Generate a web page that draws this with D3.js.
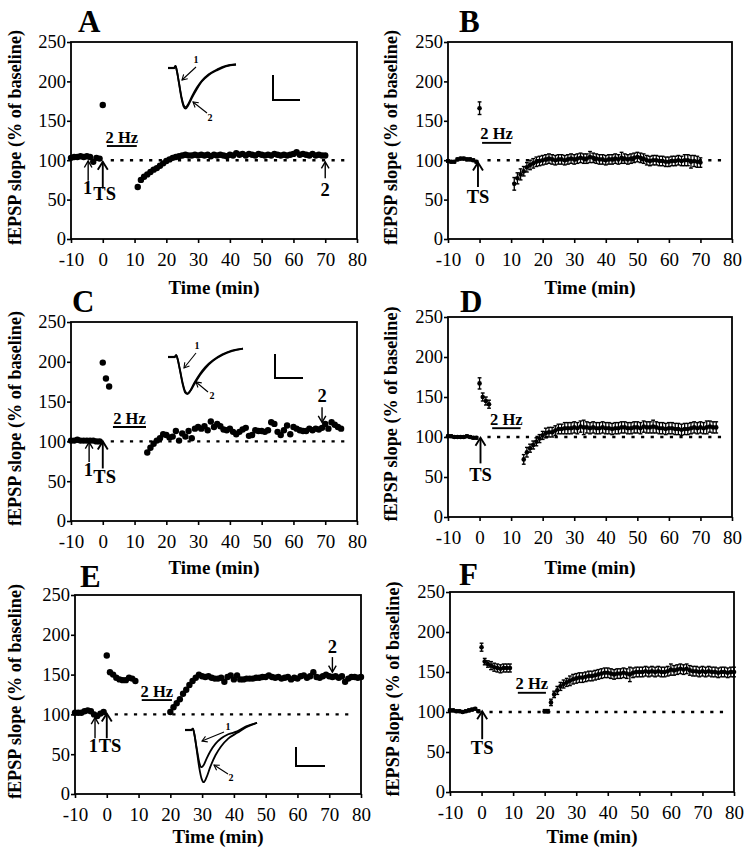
<!DOCTYPE html>
<html><head><meta charset="utf-8">
<script src="https://cdn.jsdelivr.net/npm/d3@7"></script>
<style>
body{margin:0;background:#fff}
svg{display:block}
</style>
</head><body>
<svg id="chart" width="748" height="855"></svg>
<script>
// ---------------- DATA ----------------
const xTicks = [-10,0,10,20,30,40,50,60,70,80];
const yTicks = [0,50,100,150,200,250];
const panelLetters = ["A","B","C","D","E","F"];
const yAxisTitle = "fEPSP slope (% of baseline)";
const xAxisTitle = "Time (min)";

// Panel A (single slice)
const aPre = [103,104,104,105,104,105,104,98,103,102];           // t -10..-1
const aTS  = [170];                                               // t 0
const aRec = [66,75,79,82,85,88,90,93,96,99, 101,103,104,105,106,107,106,106,107,106,
              107,106,107,105,107,106,107,106,105,107, 106,109,107,108,106,108,107,106,108,107,
              106,107,106,108,107,106,107,106,107,108, 110,107,108,107,106,108,106,107,106,106]; // t 11..70

// Panel B (mean ± SEM)
const bPre = [99,98,98,101,102,102,101,101,100,98];
const bPreErr = [1.5,1.5,1.5,1.5,1.5,1.5,1.5,1.5,1.5,1.5];
const bTS = [166];
const bTSErr = [8];
const bRec = [70,77,82,86,91,94,96,98,99,100, 101,102,101,100,101,101,100,101,102,101,
              102,103,102,102,104,103,102,101,101,100, 101,101,102,101,103,102,101,102,103,104,
              103,102,100,99,100,100,99,99,98,98, 99,99,100,99,100,100,98,99,98,97]; // t 11..70
const bRecErr = [8,7,7,6,6,6,6,6,6,6, 6,6,6,6,6,6,6,6,6,6, 6,6,6,6,7,6,6,6,6,6,
                 6,6,6,6,7,6,6,6,6,6, 6,6,6,6,6,6,6,6,6,6, 6,6,6,6,7,7,8,7,7,6];

// Panel C (single slice)
const cPre = [101,101,102,101,101,101,101,101,100,100];
const cTS  = [199,179,169];                                        // t 0..2
const cRec = [86,92,97,101,104,109,108,105,106,113, 101,110,106,113,104,116,118,116,119,114,
              125,118,122,119,115,114,116,112,109,112, 115,117,107,108,114,113,113,112,114,124,
              122,112,108,114,120,109,118,116,114,113, 113,116,114,116,115,117,122,116,124,121,
              118,116];                                            // t 14..75

// Panel D (mean ± SEM)
const dPre = [101,101,100,100,100,100,101,100,99,99];
const dPreErr = [1.5,1.5,1.5,1.5,1.5,1.5,1.5,1.5,1.5,1.5];
const dTS = [167,150,145,141];
const dTSErr = [7,5,5,5];
const dRec = [72,81,86,90,94,98,102,105,106,106, 108,110,110,111,111,111,112,111,113,112,
              112,111,112,111,111,112,111,111,110,111, 111,112,112,111,111,112,112,111,113,112,
              112,113,112,111,111,110,111,111,110,110, 109,110,110,111,112,111,112,111,112,113,
              112,112];                                            // t 14..75
const dRecErr = [6,6,5,5,5,5,5,6,6,6, 6,6,6,7,7,7,7,7,7,9, 7,7,7,7,7,7,7,7,7,7,
                 7,7,7,7,7,7,7,7,7,7, 7,8,7,7,7,7,7,7,7,7, 7,7,7,7,7,7,7,7,8,7, 7,7];

// Panel E (single slice)
const ePre = [102,102,102,104,105,104,100,98,101,103];
const eTS  = [174,153,150,146,144,143,143,146,145,142];            // t 0..9
const eRec = [103,109,114,119,126,131,137,142,146,150, 148,147,148,146,145,145,146,141,147,149,
              144,149,144,144,145,145,145,146,146,147, 147,149,147,146,147,145,146,147,144,146,
              145,148,149,146,148,153,147,146,148,150, 148,147,148,146,148,141,145,147,147,146,
              147];                                                // t 20..80

// Panel F (mean ± SEM)
const fPre = [102,102,101,101,100,101,102,103,104,101];
const fPreErr = [1.5,1.5,1.5,1.5,1.5,1.5,1.5,1.5,1.5,1.5];
const fTS = [181,163,160,158,156,155,154,155,155,155];
const fTSErr = [5,4,4,5,5,5,5,5,5,5];
const fRec = [101,101,112,122,127,132,135,137,139,141, 142,143,143,144,145,145,146,147,148,149,
              149,148,147,148,148,149,148,147,149,150, 150,150,151,150,151,150,151,150,150,151,
              153,152,153,154,153,154,152,151,151,150, 151,150,151,150,150,149,150,150,149,150,
              150];                                                // t 20..80
const fRecErr = [2,2,4,4,5,5,5,5,6,6, 6,6,6,6,6,6,6,6,6,6, 6,6,6,6,6,6,6,9,6,6,
                 6,6,6,6,6,6,6,6,6,6, 7,6,6,6,6,6,6,6,6,6, 6,6,6,6,6,6,6,6,6,6, 6];

// 2 Hz stimulation bars: [start min, end min, level]
const hzA = [1.3,10.7,118], hzB = [0.8,10,122], hzC = [3.2,13.6,118],
      hzD = [4,13,111],     hzE = [11,20.5,118], hzF = [11.5,20.4,124];

// Example fEPSP traces (ms, mV)
const traceTime = [0,1.8,2.2,2.6,3.2,4,4.6,5.2,6,7,8.5,10,12,14.5,17,20];
const traceA1 = [0,0,0.15,-0.2,-1.0,-2.1,-2.65,-2.8,-2.55,-2.05,-1.4,-0.9,-0.45,-0.1,0.15,0.25];
const traceA2 = [0,0,0.15,-0.2,-1.05,-2.2,-2.75,-2.9,-2.65,-2.15,-1.5,-0.95,-0.5,-0.15,0.12,0.25];
const traceC1 = [0,0,0.15,-0.2,-1.0,-2.1,-2.65,-2.8,-2.55,-2.0,-1.3,-0.75,-0.25,0.2,0.5,0.65];
const traceC2 = [0,0,0.15,-0.2,-1.05,-2.2,-2.75,-2.85,-2.6,-2.1,-1.4,-0.85,-0.3,0.15,0.45,0.65];
const traceE1 = [0,0,0.1,-0.3,-1.2,-2.3,-2.6,-2.45,-2.0,-1.5,-0.95,-0.6,-0.3,-0.1,0.25,0.5];
const traceE2 = [0,0,0.1,-0.3,-1.3,-2.7,-3.4,-3.65,-3.3,-2.6,-1.75,-1.15,-0.6,-0.2,0.2,0.5];

// ---------------- HELPERS ----------------
const serif = "'Liberation Serif','Times New Roman',Times,serif";
function seg(t0, vals, errs){ return vals.map((v,i)=>({t:t0+i, v:v, e: errs ? errs[i] : 0})); }

const panels = [
  {letter:"A", box:[71,357,42,239], letterXY:[78,32], ylabX:21, xlabY:294, kind:"dot",
   pts: seg(-10,aPre).concat(seg(0,aTS), seg(11,aRec)), hz:hzA,
   arrows:[{t:-4.6,tail:74,tip:99,label:"1",lv:57,lt:-4.8},
           {t:0,tail:64,tip:98,label:"TS",lv:49,lt:0.6},
           {t:70,tail:77,tip:98,label:"2",lv:55,lt:70}],
   inset:{x0:168,x1:236,yz:68,k:14,tr:[traceA1,traceA2],
          lab1:[196,63],a1:[[196,67],[182,80]],lab2:[210,121],a2:[[207,113],[193,102]],
          bar:[273,75,100,300]}},
  {letter:"B", box:[448,732,42,239], letterXY:[459,32], ylabX:397, xlabY:294, kind:"err",
   pts: seg(-10,bPre,bPreErr).concat(seg(0,bTS,bTSErr), seg(11,bRec,bRecErr)), hz:hzB,
   arrows:[{t:-0.5,tail:66,tip:97,label:"TS",lv:46,lt:-0.5}]},
  {letter:"C", box:[71,357,322,521], letterXY:[72,312], ylabX:21, xlabY:574, kind:"dot",
   pts: seg(-10,cPre).concat(seg(0,cTS), seg(14,cRec)), hz:hzC,
   arrows:[{t:-4.3,tail:74,tip:99,label:"1",lv:56,lt:-4.5},
           {t:0,tail:66,tip:100,label:"TS",lv:48,lt:0.6},
           {t:69,tail:143,tip:124,label:"2",lv:149,lt:69}],
   inset:{x0:168,x1:243,yz:357,k:13,tr:[traceC1,traceC2],
          lab1:[197,349],a1:[[196,353],[184,368]],lab2:[212,399],a2:[[208,392],[196,382]],
          bar:[275,354,378,303]}},
  {letter:"D", box:[448,732,317,517], letterXY:[460,312], ylabX:397, xlabY:574, kind:"err",
   pts: seg(-10,dPre,dPreErr).concat(seg(0,dTS,dTSErr), seg(14,dRec,dRecErr)), hz:hzD,
   arrows:[{t:0.3,tail:67,tip:99,label:"TS",lv:45,lt:0.3}]},
  {letter:"E", box:[75,361,595,794], letterXY:[80,587], ylabX:21, xlabY:843, kind:"dot",
   pts: seg(-10,ePre).concat(seg(0,eTS), seg(20,eRec)), hz:hzE,
   arrows:[{t:-3.7,tail:70,tip:96,label:"1",lv:53,lt:-4.2},
           {t:0,tail:70,tip:101,label:"TS",lv:53,lt:1.0},
           {t:71,tail:172,tip:153,label:"2",lv:177,lt:71}],
   inset:{x0:185,x1:257,yz:730,k:14.3,tr:[traceE1,traceE2],
          lab1:[228,730],a1:[[224,732],[202,741]],lab2:[231,781],a2:[[228,774],[214,765]],
          bar:[296,747,766,325]}},
  {letter:"F", box:[450,734,592,792], letterXY:[459,585], ylabX:399, xlabY:843, kind:"err",
   pts: seg(-10,fPre,fPreErr).concat(seg(0,fTS,fTSErr), seg(20,fRec,fRecErr)), hz:hzF,
   arrows:[{t:0.2,tail:66,tip:101,label:"TS",lv:48,lt:0.2}]}
];

const svg = d3.select("#chart");

function arrowHead(g, tipX, tipY, ang, w, l, sw){
  const bx = tipX - Math.cos(ang)*l, by = tipY - Math.sin(ang)*l;
  const px = -Math.sin(ang)*w, py = Math.cos(ang)*w;
  g.append("polyline")
    .attr("points", `${bx+px},${by+py} ${tipX},${tipY} ${bx-px},${by-py}`)
    .attr("fill","none").attr("stroke","#000").attr("stroke-width",sw)
    .attr("stroke-linejoin","miter");
}
function arrowPx(g, x1,y1,x2,y2, w,l,sw){
  g.append("line").attr("x1",x1).attr("y1",y1).attr("x2",x2).attr("y2",y2)
    .attr("stroke","#000").attr("stroke-width",sw);
  arrowHead(g, x2, y2, Math.atan2(y2-y1, x2-x1), w, l, sw);
}

function drawPanel(p){
  const [x0,x1,yt,yb] = p.box;
  const g = svg.append("g");
  const x = d3.scaleLinear().domain([-10,80]).range([x0,x1]);
  const y = d3.scaleLinear().domain([0,250]).range([yb,yt]);

  g.append("rect").attr("x",x0).attr("y",yt).attr("width",x1-x0).attr("height",yb-yt)
    .attr("fill","none").attr("stroke","#000").attr("stroke-width",1.8);

  const xa = g.append("g").attr("transform",`translate(0,${yb})`)
    .call(d3.axisBottom(x).tickValues(xTicks).tickFormat(d=>String(d)).tickSize(4).tickSizeOuter(0).tickPadding(10));
  xa.select(".domain").remove();
  xa.attr("font-family",serif).attr("font-size",19);
  xa.selectAll("line").attr("stroke-width",1.6);
  xa.selectAll("text").attr("fill","#000");

  const ya = g.append("g").attr("transform",`translate(${x0},0)`)
    .call(d3.axisLeft(y).tickValues(yTicks).tickFormat(d=>String(d)).tickSize(4).tickSizeOuter(0).tickPadding(1));
  ya.select(".domain").remove();
  ya.attr("font-family",serif).attr("font-size",18.5);
  ya.selectAll("line").attr("stroke-width",1.6);
  ya.selectAll("text").attr("fill","#000");

  g.append("text").attr("x",(x0+x1)/2).attr("y",p.xlabY).attr("text-anchor","middle")
    .attr("font-family",serif).attr("font-weight","bold").attr("font-size",19).text(xAxisTitle);
  g.append("text").attr("transform",`translate(${p.ylabX},${(yt+yb)/2-3}) rotate(-90)`)
    .attr("text-anchor","middle").attr("font-family",serif).attr("font-weight","bold")
    .attr("font-size",18.2).text(yAxisTitle);
  g.append("text").attr("x",p.letterXY[0]).attr("y",p.letterXY[1])
    .attr("font-family",serif).attr("font-weight","bold").attr("font-size",31).text(p.letter);

  g.append("line").attr("x1",x(2.5)).attr("x2",x(78)).attr("y1",y(100)).attr("y2",y(100))
    .attr("stroke","#000").attr("stroke-width",2.4).attr("stroke-dasharray","3.2,6.4");

  const [h0,h1,hv] = p.hz;
  g.append("line").attr("x1",x(h0)).attr("x2",x(h1)).attr("y1",y(hv)).attr("y2",y(hv))
    .attr("stroke","#000").attr("stroke-width",1.9);
  g.append("text").attr("x",x((h0+h1)/2)).attr("y",y(hv)-3.5).attr("text-anchor","middle")
    .attr("font-family",serif).attr("font-weight","bold").attr("font-size",16.5).text("2 Hz");

  if(p.kind==="dot"){
    g.append("g").selectAll("circle").data(p.pts).join("circle")
      .attr("cx",d=>x(d.t)).attr("cy",d=>y(d.v)).attr("r",3.2).attr("fill","#000");
  } else {
    const eg = g.append("g").attr("stroke","#000");
    p.pts.forEach(d=>{
      const cx = x(d.t);
      eg.append("line").attr("x1",cx).attr("x2",cx).attr("y1",y(d.v-d.e)).attr("y2",y(d.v+d.e)).attr("stroke-width",1.3);
      eg.append("line").attr("x1",cx-1.9).attr("x2",cx+1.9).attr("y1",y(d.v-d.e)).attr("y2",y(d.v-d.e)).attr("stroke-width",1.4);
      eg.append("line").attr("x1",cx-1.9).attr("x2",cx+1.9).attr("y1",y(d.v+d.e)).attr("y2",y(d.v+d.e)).attr("stroke-width",1.4);
    });
    g.append("g").selectAll("circle").data(p.pts).join("circle")
      .attr("cx",d=>x(d.t)).attr("cy",d=>y(d.v)).attr("r",2.3).attr("fill","#000");
  }

  (p.arrows||[]).forEach(a=>{
    const isTS = a.label==="TS";
    const sw = isTS ? 1.9 : 1.4, w = isTS ? 5 : 3.8, l = isTS ? 8 : 6.5;
    arrowPx(g, x(a.t), y(a.tail), x(a.t), y(a.tip), w, l, sw);
    g.append("text").attr("x",x(a.lt)).attr("y",y(a.lv)).attr("text-anchor","middle")
      .attr("font-family",serif).attr("font-weight","bold").attr("font-size",18.5).text(a.label);
  });

  if(p.inset){
    const s = p.inset;
    const tx = d3.scaleLinear().domain([0,20]).range([s.x0,s.x1]);
    const ty = d3.scaleLinear().domain([0,-1]).range([s.yz,s.yz+s.k]);
    const ln = d3.line().x((d,i)=>tx(traceTime[i])).y(d=>ty(d)).curve(d3.curveMonotoneX);
    s.tr.forEach(tr=>{
      g.append("path").attr("d",ln(tr)).attr("fill","none").attr("stroke","#000").attr("stroke-width",1.8);
    });
    g.append("line").attr("x1",tx(0)).attr("x2",tx(1.9)).attr("y1",ty(0)).attr("y2",ty(0))
      .attr("stroke","#000").attr("stroke-width",2.2);
    g.append("text").attr("x",s.lab1[0]).attr("y",s.lab1[1]).attr("text-anchor","middle")
      .attr("font-family",serif).attr("font-weight","bold").attr("font-size",10).text("1");
    g.append("text").attr("x",s.lab2[0]).attr("y",s.lab2[1]).attr("text-anchor","middle")
      .attr("font-family",serif).attr("font-weight","bold").attr("font-size",10).text("2");
    arrowPx(g, s.a1[0][0], s.a1[0][1], s.a1[1][0], s.a1[1][1], 3, 5, 1.1);
    arrowPx(g, s.a2[0][0], s.a2[0][1], s.a2[1][0], s.a2[1][1], 3, 5, 1.1);
    const [bx, by0, by1, bx1] = s.bar;
    g.append("path").attr("d",`M${bx},${by0}V${by1}H${bx1}`).attr("fill","none")
      .attr("stroke","#000").attr("stroke-width",2);
  }
}

panels.forEach(drawPanel);
</script>
</body></html>
